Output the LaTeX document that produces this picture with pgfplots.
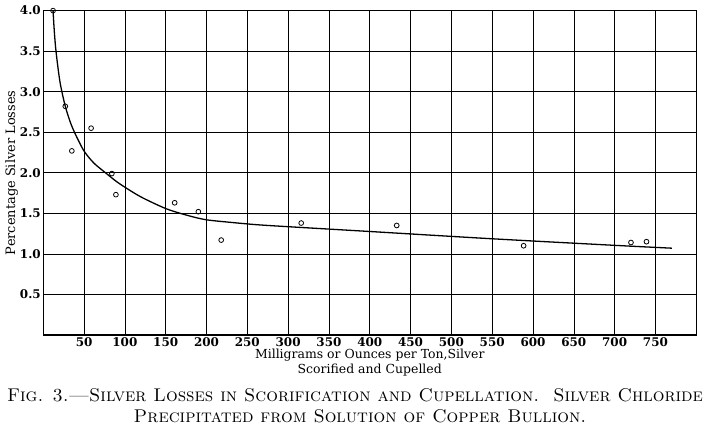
\documentclass[border=0pt]{standalone}
\usepackage{pgfplots}
\pgfplotsset{compat=1.18}
\usepackage{fontspec}
\newfontfamily\dvs{DejaVu Serif}
\begin{document}
\begin{tikzpicture}[x=1bp,y=1bp]
\begin{axis}[
  at={(53,118.5)}, anchor=south west,
  scale only axis, width=653bp, height=324.3bp,
  xmin=0, xmax=800, ymin=0, ymax=4.0,
  xtick={50,100,...,750}, ytick={0.5,1.0,...,4.0},
  grid=major, major grid style={black, line width=0.6pt},
  major tick length=0pt,
  axis line style={line width=1.4pt},
  tick label style={font=\dvs\fontsize{12}{14}\selectfont\bfseries},
  yticklabel style={/pgf/number format/fixed, /pgf/number format/fixed zerofill, /pgf/number format/precision=1, xshift=1bp},
  /pgf/number format/assume math mode=true,
  xticklabel style={yshift=1bp},
  xlabel={Milligrams or Ounces per Ton,Silver\\Scorified and Cupelled},
  xlabel style={align=center, font=\dvs\fontsize{12.5}{15}\selectfont, yshift=4bp},
  ylabel={Percentage Silver Losses},
  ylabel style={font=\dvs\fontsize{13}{15}\selectfont, yshift=-5bp},
  clip=false,
]
\addplot[only marks, mark=o, mark size=2.4pt, mark options={line width=0.8pt}] coordinates {
(12,4.0) (27,2.82) (35,2.27) (58.6,2.55) (84,1.99) (89,1.73) (161,1.63) (190,1.52) (218,1.17) (316,1.38) (433,1.35) (588.5,1.10) (720,1.14) (739,1.15)
};
\addplot[smooth, line width=1.3pt] coordinates {
(12,4.0) (13.5,3.75) (15.6,3.5) (20.5,3.12) (27,2.82) (34,2.6) (42,2.42) (50.5,2.26) (62,2.12) (75,2.01) (90,1.89) (105,1.79) (122,1.69) (151,1.555) (179,1.468) (200,1.42) (228,1.39) (261,1.36) (300,1.335) (398,1.277) (550,1.186) (700,1.105) (770,1.07)
};
\end{axis}
\node[font=\fontsize{18.5}{21}\selectfont] at (355,36) {\textsc{Fig. 3.---Silver Losses in Scorification and Cupellation.\ \ Silver Chloride}};
\node[font=\fontsize{18.5}{21}\selectfont] at (360,15) {\textsc{Precipitated from Solution of Copper Bullion.}};
\pgfresetboundingbox
\path[use as bounding box] (0,0) rectangle (710,431);
\end{tikzpicture}
\end{document}
